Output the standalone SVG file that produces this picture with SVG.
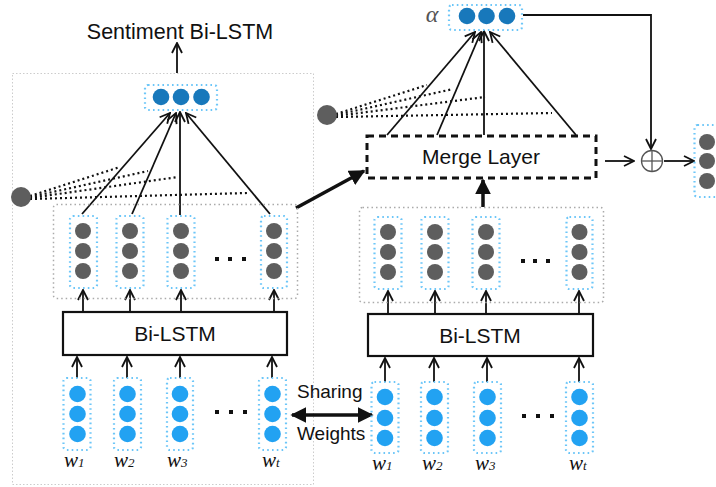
<svg xmlns="http://www.w3.org/2000/svg" width="716" height="487" viewBox="0 0 716 487">
<defs>
<style>
.t{font-family:"Liberation Sans",Arial,sans-serif;fill:#111}
.w{font-family:"Liberation Serif","Times New Roman",serif;font-style:italic;fill:#111}
.panel{fill:none;stroke:#aaa;stroke-width:1.5;stroke-dasharray:1.5 3}
.outer{fill:none;stroke:#ccc;stroke-width:1;stroke-dasharray:1.5 2}
.bd{fill:none;stroke:#6cc6f8;stroke-width:2.2;stroke-dasharray:1.6 3.2}
.g{fill:#5e5e5e}
.lb{fill:#22a2f2}
.db{fill:#1878bb}
.box{fill:#fff;stroke:#111;stroke-width:2.2}
.ln{stroke:#111;stroke-width:1.8;fill:none}
.dot{stroke:#111;stroke-width:2.2;fill:none;stroke-dasharray:2 3}
.sq{fill:#111}
</style>
<marker id="ov" viewBox="0 0 12 12" refX="11" refY="6" markerWidth="12" markerHeight="12" markerUnits="userSpaceOnUse" orient="auto">
<path d="M1,1 L11,6 L1,11" fill="none" stroke="#111" stroke-width="1.8"/>
</marker>
<marker id="fa" viewBox="0 0 10 10" refX="9" refY="5" markerWidth="16" markerHeight="16" markerUnits="userSpaceOnUse" orient="auto">
<path d="M0,0 L10,5 L0,10 Z" fill="#111"/>
</marker>
<marker id="fb" viewBox="0 0 10 10" refX="1" refY="5" markerWidth="16" markerHeight="16" markerUnits="userSpaceOnUse" orient="auto">
<path d="M10,0 L0,5 L10,10 Z" fill="#111"/>
</marker>
</defs>
<rect width="716" height="487" fill="#fff"/>

<g id="left-panel">
<rect class="outer" x="12.5" y="73.5" width="301" height="411"/>
</g>

<g id="connectors">
<line class="ln" x1="177" y1="73" x2="177" y2="43" marker-end="url(#ov)"/>
<line class="dot" x1="30" y1="196" x2="120" y2="167"/>
<line class="dot" x1="30" y1="197" x2="148" y2="171"/>
<line class="dot" x1="30" y1="198" x2="178" y2="177"/>
<line class="dot" x1="30" y1="199" x2="247" y2="193"/>
<line class="ln" x1="82" y1="214" x2="170" y2="113" marker-end="url(#ov)"/>
<line class="ln" x1="132" y1="214" x2="176" y2="113" marker-end="url(#ov)"/>
<line class="ln" x1="180" y1="215" x2="180" y2="112" marker-end="url(#ov)"/>
<line class="ln" x1="270" y1="214" x2="186" y2="113" marker-end="url(#ov)"/>
<line class="ln" x1="83" y1="312" x2="83" y2="290" marker-end="url(#ov)"/>
<line class="ln" x1="130" y1="312" x2="130" y2="290" marker-end="url(#ov)"/>
<line class="ln" x1="181" y1="312" x2="181" y2="290" marker-end="url(#ov)"/>
<line class="ln" x1="274" y1="312" x2="274" y2="290" marker-end="url(#ov)"/>
<line class="ln" x1="77" y1="378" x2="77" y2="357" marker-end="url(#ov)"/>
<line class="ln" x1="127" y1="378" x2="127" y2="357" marker-end="url(#ov)"/>
<line class="ln" x1="180" y1="378" x2="180" y2="357" marker-end="url(#ov)"/>
<line class="ln" x1="272" y1="378" x2="272" y2="357" marker-end="url(#ov)"/>
<line class="ln" x1="385" y1="382" x2="385" y2="358" marker-end="url(#ov)"/>
<line class="ln" x1="434" y1="382" x2="434" y2="358" marker-end="url(#ov)"/>
<line class="ln" x1="487" y1="382" x2="487" y2="358" marker-end="url(#ov)"/>
<line class="ln" x1="579" y1="382" x2="579" y2="358" marker-end="url(#ov)"/>
<line class="ln" x1="388" y1="314" x2="388" y2="291" marker-end="url(#ov)"/>
<line class="ln" x1="435" y1="314" x2="435" y2="291" marker-end="url(#ov)"/>
<line class="ln" x1="486" y1="314" x2="486" y2="291" marker-end="url(#ov)"/>
<line class="ln" x1="579" y1="314" x2="579" y2="291" marker-end="url(#ov)"/>
<line x1="292" y1="415" x2="372" y2="415" stroke="#111" stroke-width="3.5" marker-start="url(#fb)" marker-end="url(#fa)"/>
<line x1="483" y1="207" x2="483" y2="180" stroke="#111" stroke-width="3.5" marker-end="url(#fa)"/>
<line x1="296" y1="208" x2="364" y2="171" stroke="#111" stroke-width="3.5" marker-end="url(#fa)"/>
<line class="dot" x1="336" y1="114" x2="427" y2="85"/>
<line class="dot" x1="336" y1="115" x2="453" y2="89"/>
<line class="dot" x1="336" y1="116" x2="485" y2="97"/>
<line class="dot" x1="336" y1="117" x2="552" y2="113"/>
<line class="ln" x1="387" y1="135" x2="475" y2="32" marker-end="url(#ov)"/>
<line class="ln" x1="437" y1="135" x2="481" y2="32" marker-end="url(#ov)"/>
<line class="ln" x1="484" y1="135" x2="484" y2="31" marker-end="url(#ov)"/>
<line class="ln" x1="576" y1="135" x2="490" y2="32" marker-end="url(#ov)"/>
<polyline class="ln" points="523,15 651,15 651,149" marker-end="url(#ov)"/>
<line class="ln" x1="605" y1="161" x2="634" y2="161" marker-end="url(#ov)"/>
<line class="ln" x1="664" y1="161" x2="694" y2="161" marker-end="url(#ov)"/>
</g>

<g id="sentiment-label"><text class="t" x="180" y="39" font-size="21.5" text-anchor="middle">Sentiment Bi-LSTM</text></g>

<g id="left-output">
<rect class="bd" x="145" y="85" width="72" height="25" rx="3"/>
<circle class="db" cx="161" cy="97" r="8.3"/>
<circle class="db" cx="181" cy="97" r="8.3"/>
<circle class="db" cx="201.5" cy="97" r="8.3"/>
</g>

<g id="left-attn-node"><circle class="g" cx="21" cy="197" r="10"/></g>

<g id="left-hidden">
<rect class="panel" x="53.5" y="204.5" width="244" height="94" rx="3"/>
<rect class="bd" x="70" y="216" width="27" height="72" rx="3"/>
<circle class="g" cx="83" cy="231" r="8"/><circle class="g" cx="83" cy="251" r="8"/><circle class="g" cx="83" cy="271" r="8"/>
<rect class="bd" x="116.5" y="216" width="27" height="72" rx="3"/>
<circle class="g" cx="130" cy="231" r="8"/><circle class="g" cx="130" cy="251" r="8"/><circle class="g" cx="130" cy="271" r="8"/>
<rect class="bd" x="167.5" y="216" width="27" height="72" rx="3"/>
<circle class="g" cx="181" cy="231" r="8"/><circle class="g" cx="181" cy="251" r="8"/><circle class="g" cx="181" cy="271" r="8"/>
<rect class="bd" x="261" y="216" width="26" height="72" rx="3"/>
<circle class="g" cx="274" cy="231" r="8"/><circle class="g" cx="274" cy="251" r="8"/><circle class="g" cx="274" cy="271" r="8"/>
<rect class="sq" x="215" y="257" width="4" height="4"/><rect class="sq" x="228" y="257" width="4" height="4"/><rect class="sq" x="242" y="257" width="4" height="4"/>
</g>

<g id="left-bilstm">
<rect class="box" x="63" y="312" width="224" height="43"/>
<text class="t" x="175" y="341" font-size="21" text-anchor="middle">Bi-LSTM</text>
</g>

<g id="left-inputs">
<rect class="bd" x="63.5" y="378" width="27" height="72" rx="3"/>
<circle class="lb" cx="77.5" cy="394" r="8.3"/><circle class="lb" cx="77.5" cy="414" r="8.3"/><circle class="lb" cx="77.5" cy="434" r="8.3"/>
<rect class="bd" x="114" y="378" width="27" height="72" rx="3"/>
<circle class="lb" cx="127.5" cy="394" r="8.3"/><circle class="lb" cx="127.5" cy="414" r="8.3"/><circle class="lb" cx="127.5" cy="434" r="8.3"/>
<rect class="bd" x="167" y="378" width="26" height="72" rx="3"/>
<circle class="lb" cx="180" cy="394" r="8.3"/><circle class="lb" cx="180" cy="414" r="8.3"/><circle class="lb" cx="180" cy="434" r="8.3"/>
<rect class="bd" x="259" y="378" width="27" height="72" rx="3"/>
<circle class="lb" cx="272.5" cy="394" r="8.3"/><circle class="lb" cx="272.5" cy="414" r="8.3"/><circle class="lb" cx="272.5" cy="434" r="8.3"/>
<rect class="sq" x="215" y="410" width="4" height="4"/><rect class="sq" x="229" y="410" width="4" height="4"/><rect class="sq" x="243" y="410" width="4" height="4"/>
<text class="w" x="64" y="467" font-size="21">w<tspan font-size="13">1</tspan></text>
<text class="w" x="114" y="467" font-size="21">w<tspan font-size="13">2</tspan></text>
<text class="w" x="167" y="467" font-size="21">w<tspan font-size="13">3</tspan></text>
<text class="w" x="262" y="467" font-size="21">w<tspan font-size="13">t</tspan></text>
</g>

<g id="sharing-label">
<text class="t" x="297" y="398" font-size="19">Sharing</text>
<text class="t" x="297" y="440" font-size="19">Weights</text>
</g>

<g id="right-inputs">
<rect class="bd" x="371.5" y="382" width="27" height="71" rx="3"/>
<circle class="lb" cx="385" cy="397" r="8.3"/><circle class="lb" cx="385" cy="418" r="8.3"/><circle class="lb" cx="385" cy="438" r="8.3"/>
<rect class="bd" x="421" y="382" width="27" height="71" rx="3"/>
<circle class="lb" cx="434.5" cy="397" r="8.3"/><circle class="lb" cx="434.5" cy="418" r="8.3"/><circle class="lb" cx="434.5" cy="438" r="8.3"/>
<rect class="bd" x="474" y="382" width="27" height="71" rx="3"/>
<circle class="lb" cx="487.5" cy="397" r="8.3"/><circle class="lb" cx="487.5" cy="418" r="8.3"/><circle class="lb" cx="487.5" cy="438" r="8.3"/>
<rect class="bd" x="566" y="382" width="27" height="71" rx="3"/>
<circle class="lb" cx="579.5" cy="397" r="8.3"/><circle class="lb" cx="579.5" cy="418" r="8.3"/><circle class="lb" cx="579.5" cy="438" r="8.3"/>
<rect class="sq" x="522" y="414" width="4" height="4"/><rect class="sq" x="536" y="414" width="4" height="4"/><rect class="sq" x="550" y="414" width="4" height="4"/>
<text class="w" x="372" y="470" font-size="21">w<tspan font-size="13">1</tspan></text>
<text class="w" x="422" y="470" font-size="21">w<tspan font-size="13">2</tspan></text>
<text class="w" x="475" y="470" font-size="21">w<tspan font-size="13">3</tspan></text>
<text class="w" x="569" y="470" font-size="21">w<tspan font-size="13">t</tspan></text>
</g>

<g id="right-bilstm">
<rect class="box" x="368" y="314" width="225" height="42"/>
<text class="t" x="480" y="343" font-size="21" text-anchor="middle">Bi-LSTM</text>
</g>

<g id="right-hidden">
<rect class="panel" x="359.5" y="207.5" width="244" height="95" rx="3"/>
<rect class="bd" x="374.5" y="217" width="27" height="72" rx="3"/>
<circle class="g" cx="388" cy="232" r="8"/><circle class="g" cx="388" cy="252" r="8"/><circle class="g" cx="388" cy="272" r="8"/>
<rect class="bd" x="421.5" y="217" width="27" height="72" rx="3"/>
<circle class="g" cx="435" cy="232" r="8"/><circle class="g" cx="435" cy="252" r="8"/><circle class="g" cx="435" cy="272" r="8"/>
<rect class="bd" x="472.5" y="217" width="27" height="72" rx="3"/>
<circle class="g" cx="486" cy="232" r="8"/><circle class="g" cx="486" cy="252" r="8"/><circle class="g" cx="486" cy="272" r="8"/>
<rect class="bd" x="566.5" y="217" width="26" height="72" rx="3"/>
<circle class="g" cx="579.5" cy="232" r="8"/><circle class="g" cx="579.5" cy="252" r="8"/><circle class="g" cx="579.5" cy="272" r="8"/>
<rect class="sq" x="521" y="259" width="4" height="4"/><rect class="sq" x="533" y="259" width="4" height="4"/><rect class="sq" x="546" y="259" width="4" height="4"/>
</g>

<g id="merge-layer">
<rect x="367" y="136" width="229" height="42" fill="#fff" stroke="#111" stroke-width="3" stroke-dasharray="7 5"/>
<text class="t" x="481" y="164" font-size="21" text-anchor="middle">Merge Layer</text>
</g>

<g id="right-attn-node"><circle class="g" cx="327" cy="115" r="10"/></g>

<g id="alpha">
<text x="432" y="22" font-size="24" font-style="italic" fill="#555" font-family="'Liberation Serif','Times New Roman',serif" text-anchor="middle">α</text>
<rect class="bd" x="449" y="5" width="73" height="25" rx="3"/>
<circle class="db" cx="467" cy="16" r="8.3"/>
<circle class="db" cx="486.5" cy="16" r="8.3"/>
<circle class="db" cx="507" cy="16" r="8.3"/>
</g>

<g id="oplus">
<circle cx="652" cy="161" r="10.5" fill="#fff" stroke="#555" stroke-width="1.3"/>
<line x1="641.5" y1="161" x2="662.5" y2="161" stroke="#555" stroke-width="1.3"/>
<line x1="652" y1="150.5" x2="652" y2="171.5" stroke="#555" stroke-width="1.3"/>
</g>

<g id="final-output">
<rect class="bd" x="694.5" y="125" width="30" height="72" rx="3"/>
<circle class="g" cx="707" cy="142" r="8"/><circle class="g" cx="707" cy="161" r="8"/><circle class="g" cx="707" cy="181" r="8"/>
</g>
</svg>
